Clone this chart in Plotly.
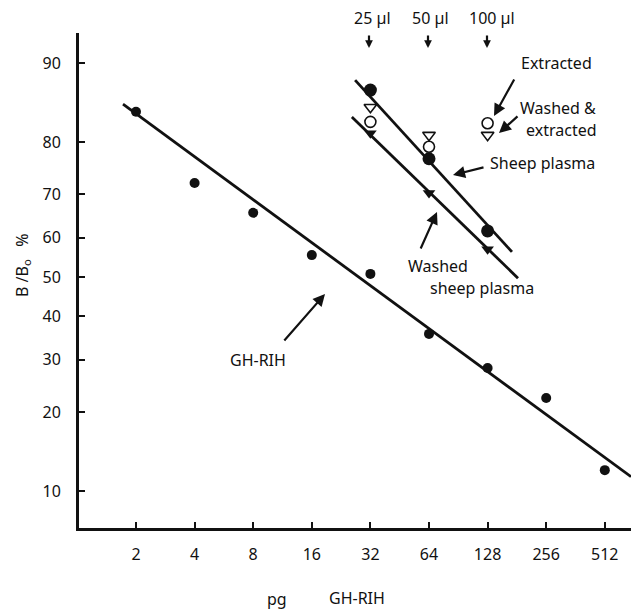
import numpy as np
import plotly.graph_objects as go

# ---- data (pg GH-RIH, B/Bo %) ----
dose = [2, 4, 8, 16, 32, 64, 128, 256, 512]
ghrih_pct = [84.5, 72.4, 65.9, 55.6, 50.8, 35.8, 28.2, 22.4, 12.1]

plasma_dose = [32, 64, 128]          # 25 µl, 50 µl, 100 µl
sheep_pct = [87.2, 77.1, 61.6]
washed_sheep_pct = [81.4, 70.3, 57.1]
extracted_pct = [83.1, 79.2, 82.9]
washed_extracted_pct = [85.1, 81.1, 81.1]

# fitted lines (end points)
ghrih_fit_x = [1.715, 698]
ghrih_fit_pct = [85.5, 11.4]
sheep_fit_x = [26.7, 170.8]
sheep_fit_pct = [88.3, 56.4]
washed_fit_x = [25.7, 183.4]
washed_fit_pct = [83.8, 49.7]

ytick_pct = [10, 20, 30, 40, 50, 60, 70, 80, 90]
xtick_vals = dose
xtick_text = [str(d) for d in dose]


def logit(p):
    p = np.asarray(p, dtype=float) / 100.0
    return np.log(p / (1 - p))


FONT = "Noto Sans"
BLACK = "#111111"
FS = 16

fig = go.Figure()

for xs, ys in [(ghrih_fit_x, ghrih_fit_pct), (sheep_fit_x, sheep_fit_pct),
               (washed_fit_x, washed_fit_pct)]:
    fig.add_trace(go.Scatter(x=xs, y=logit(ys), mode="lines",
                             line=dict(color=BLACK, width=2.8),
                             showlegend=False, hoverinfo="skip"))

fig.add_trace(go.Scatter(x=dose, y=logit(ghrih_pct), mode="markers",
                         marker=dict(symbol="circle", size=10, color=BLACK),
                         showlegend=False))
fig.add_trace(go.Scatter(x=plasma_dose, y=logit(sheep_pct), mode="markers",
                         marker=dict(symbol="circle", size=13, color=BLACK),
                         showlegend=False))
fig.add_trace(go.Scatter(x=plasma_dose, y=logit(washed_sheep_pct), mode="markers",
                         marker=dict(symbol="triangle-down", size=11, color=BLACK),
                         showlegend=False))
fig.add_trace(go.Scatter(x=plasma_dose, y=logit(extracted_pct), mode="markers",
                         marker=dict(symbol="circle", size=11, color="white",
                                     line=dict(color=BLACK, width=1.6)),
                         showlegend=False))
fig.add_trace(go.Scatter(x=plasma_dose, y=logit(washed_extracted_pct), mode="markers",
                         marker=dict(symbol="triangle-down", size=11, color="white",
                                     line=dict(color=BLACK, width=1.6)),
                         showlegend=False))

# layout geometry (pixels)
L, T, R, B = 79, 33, 631, 528
W, H = R - L, B - T


def fx(px):
    return (px - L) / W


def fy(py):
    return (B - py) / H


ann = []


def text(px, py, s, size=FS, **kw):
    ann.append(dict(x=fx(px), y=fy(py), xref="paper", yref="paper", text=s,
                    showarrow=False, font=dict(family=FONT, size=size, color=BLACK),
                    xanchor="center", yanchor="middle", **kw))


def arrow(tx, ty, hx, hy, size=1.1, width=2.2):
    ann.append(dict(x=fx(hx), y=fy(hy), xref="paper", yref="paper", text="",
                    showarrow=True, ax=tx - hx, ay=ty - hy, axref="pixel", ayref="pixel",
                    arrowhead=2, arrowsize=size, arrowwidth=width, arrowcolor=BLACK,
                    standoff=0))


text(372, 18, "25 µl")
text(431, 18, "50 µl")
text(492, 18, "100 µl")
for x in (369, 428, 487):
    arrow(x, 34, x, 48, size=0.7, width=2.2)

text(556, 63, "Extracted")
arrow(515, 78, 494, 116)
text(558, 108, "Washed &")
text(561, 130, "extracted")
arrow(519, 115, 499, 133)
text(542, 163, "Sheep plasma")
arrow(485, 167, 453, 175)
text(438, 266, "Washed")
text(482, 288, "sheep plasma")
arrow(420, 250, 437, 212)
text(258, 360, "GH-RIH")
arrow(283, 342, 325, 294)

text(277, 599, "pg")
text(357, 598, "GH-RIH")
text(22, 266, "B /B<sub>o</sub>\u00a0\u00a0\u00a0%", textangle=-90)

fig.update_layout(
    width=631, height=614,
    margin=dict(l=L, r=631 - R, t=T, b=614 - B),
    paper_bgcolor="white", plot_bgcolor="white",
    font=dict(family=FONT, size=FS, color=BLACK),
    annotations=ann,
    showlegend=False,
)

fig.update_xaxes(type="log",
                 range=[np.log10(2 ** (1 + (L - 136) / 58.6)),
                        np.log10(2 ** (1 + (R - 136) / 58.6))],
                 tickvals=xtick_vals, ticktext=xtick_text,
                 showline=True, linewidth=3, linecolor=BLACK,
                 ticks="inside", ticklen=6, tickwidth=2, tickcolor=BLACK,
                 showgrid=False, zeroline=False, ticklabelstandoff=10,
                 tickfont=dict(family=FONT, size=FS, color=BLACK))
fig.update_yaxes(range=[(277 - B) / 97.4, (277 - T) / 97.4],
                 tickvals=list(logit(ytick_pct)), ticktext=[str(v) for v in ytick_pct],
                 showline=True, linewidth=3, linecolor=BLACK,
                 ticks="inside", ticklen=6, tickwidth=2, tickcolor=BLACK,
                 showgrid=False, zeroline=False, ticklabelstandoff=12,
                 tickfont=dict(family=FONT, size=FS, color=BLACK))

fig.write_html("out.html")
